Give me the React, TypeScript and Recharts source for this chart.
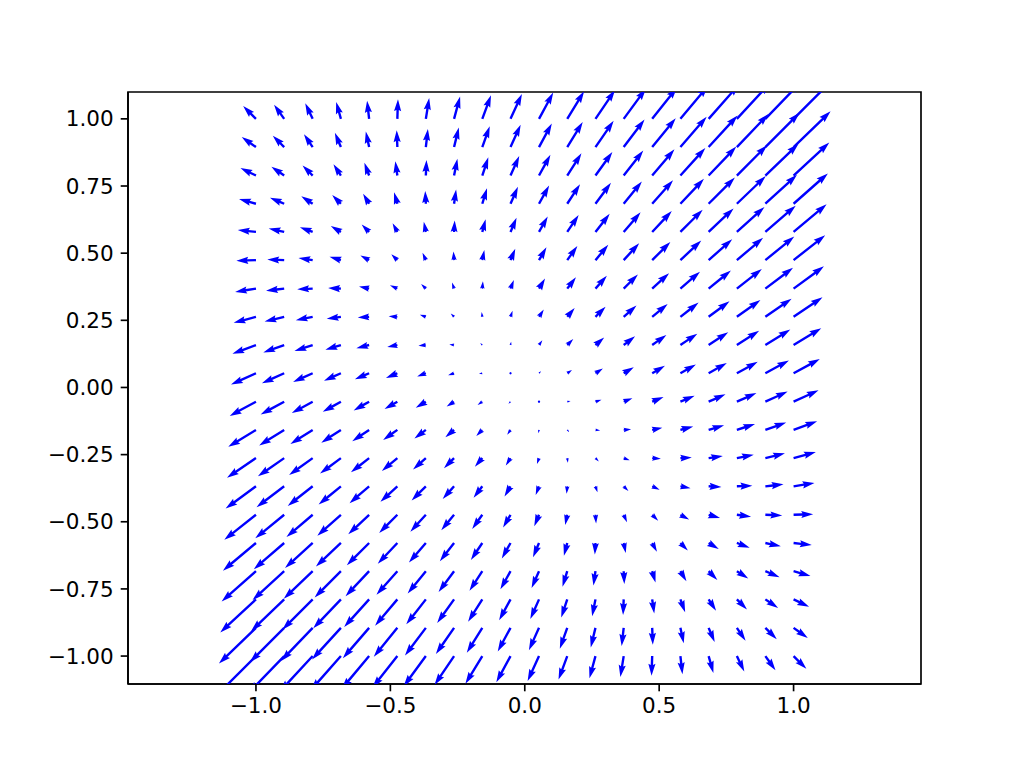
import { ScatterChart, Scatter, XAxis, YAxis, ReferenceArea } from "recharts";

// grid of arrow tails (20 x 20)
const gridX = [-1, -0.895, -0.789, -0.684, -0.579, -0.474, -0.368, -0.263, -0.158, -0.053, 0.053, 0.158, 0.263, 0.368, 0.474, 0.579, 0.684, 0.789, 0.895, 1];
const gridY = [-1, -0.895, -0.789, -0.684, -0.579, -0.474, -0.368, -0.263, -0.158, -0.053, 0.053, 0.158, 0.263, 0.368, 0.474, 0.579, 0.684, 0.789, 0.895, 1];

// horizontal components, one row per gridY value (bottom row first)
const uRows = [
  [-3, -2.79, -2.58, -2.37, -2.16, -1.95, -1.74, -1.53, -1.32, -1.11, -0.89, -0.68, -0.47, -0.26, -0.05, 0.16, 0.37, 0.58, 0.79, 1],
  [-2.89, -2.68, -2.47, -2.26, -2.05, -1.84, -1.63, -1.42, -1.21, -1, -0.79, -0.58, -0.37, -0.16, 0.05, 0.26, 0.47, 0.68, 0.89, 1.11],
  [-2.79, -2.58, -2.37, -2.16, -1.95, -1.74, -1.53, -1.32, -1.11, -0.89, -0.68, -0.47, -0.26, -0.05, 0.16, 0.37, 0.58, 0.79, 1, 1.21],
  [-2.68, -2.47, -2.26, -2.05, -1.84, -1.63, -1.42, -1.21, -1, -0.79, -0.58, -0.37, -0.16, 0.05, 0.26, 0.47, 0.68, 0.89, 1.11, 1.32],
  [-2.58, -2.37, -2.16, -1.95, -1.74, -1.53, -1.32, -1.11, -0.89, -0.68, -0.47, -0.26, -0.05, 0.16, 0.37, 0.58, 0.79, 1, 1.21, 1.42],
  [-2.47, -2.26, -2.05, -1.84, -1.63, -1.42, -1.21, -1, -0.79, -0.58, -0.37, -0.16, 0.05, 0.26, 0.47, 0.68, 0.89, 1.11, 1.32, 1.53],
  [-2.37, -2.16, -1.95, -1.74, -1.53, -1.32, -1.11, -0.89, -0.68, -0.47, -0.26, -0.05, 0.16, 0.37, 0.58, 0.79, 1, 1.21, 1.42, 1.63],
  [-2.26, -2.05, -1.84, -1.63, -1.42, -1.21, -1, -0.79, -0.58, -0.37, -0.16, 0.05, 0.26, 0.47, 0.68, 0.89, 1.11, 1.32, 1.53, 1.74],
  [-2.16, -1.95, -1.74, -1.53, -1.32, -1.11, -0.89, -0.68, -0.47, -0.26, -0.05, 0.16, 0.37, 0.58, 0.79, 1, 1.21, 1.42, 1.63, 1.84],
  [-2.05, -1.84, -1.63, -1.42, -1.21, -1, -0.79, -0.58, -0.37, -0.16, 0.05, 0.26, 0.47, 0.68, 0.89, 1.11, 1.32, 1.53, 1.74, 1.95],
  [-1.95, -1.74, -1.53, -1.32, -1.11, -0.89, -0.68, -0.47, -0.26, -0.05, 0.16, 0.37, 0.58, 0.79, 1, 1.21, 1.42, 1.63, 1.84, 2.05],
  [-1.84, -1.63, -1.42, -1.21, -1, -0.79, -0.58, -0.37, -0.16, 0.05, 0.26, 0.47, 0.68, 0.89, 1.11, 1.32, 1.53, 1.74, 1.95, 2.16],
  [-1.74, -1.53, -1.32, -1.11, -0.89, -0.68, -0.47, -0.26, -0.05, 0.16, 0.37, 0.58, 0.79, 1, 1.21, 1.42, 1.63, 1.84, 2.05, 2.26],
  [-1.63, -1.42, -1.21, -1, -0.79, -0.58, -0.37, -0.16, 0.05, 0.26, 0.47, 0.68, 0.89, 1.11, 1.32, 1.53, 1.74, 1.95, 2.16, 2.37],
  [-1.53, -1.32, -1.11, -0.89, -0.68, -0.47, -0.26, -0.05, 0.16, 0.37, 0.58, 0.79, 1, 1.21, 1.42, 1.63, 1.84, 2.05, 2.26, 2.47],
  [-1.42, -1.21, -1, -0.79, -0.58, -0.37, -0.16, 0.05, 0.26, 0.47, 0.68, 0.89, 1.11, 1.32, 1.53, 1.74, 1.95, 2.16, 2.37, 2.58],
  [-1.32, -1.11, -0.89, -0.68, -0.47, -0.26, -0.05, 0.16, 0.37, 0.58, 0.79, 1, 1.21, 1.42, 1.63, 1.84, 2.05, 2.26, 2.47, 2.68],
  [-1.21, -1, -0.79, -0.58, -0.37, -0.16, 0.05, 0.26, 0.47, 0.68, 0.89, 1.11, 1.32, 1.53, 1.74, 1.95, 2.16, 2.37, 2.58, 2.79],
  [-1.11, -0.89, -0.68, -0.47, -0.26, -0.05, 0.16, 0.37, 0.58, 0.79, 1, 1.21, 1.42, 1.63, 1.84, 2.05, 2.26, 2.47, 2.68, 2.89],
  [-1, -0.79, -0.58, -0.37, -0.16, 0.05, 0.26, 0.47, 0.68, 0.89, 1.11, 1.32, 1.53, 1.74, 1.95, 2.16, 2.37, 2.58, 2.79, 3],
];

// vertical components, same layout
const vRows = [
  [-3, -2.89, -2.79, -2.68, -2.58, -2.47, -2.37, -2.26, -2.16, -2.05, -1.95, -1.84, -1.74, -1.63, -1.53, -1.42, -1.32, -1.21, -1.11, -1],
  [-2.79, -2.68, -2.58, -2.47, -2.37, -2.26, -2.16, -2.05, -1.95, -1.84, -1.74, -1.63, -1.53, -1.42, -1.32, -1.21, -1.11, -1, -0.89, -0.79],
  [-2.58, -2.47, -2.37, -2.26, -2.16, -2.05, -1.95, -1.84, -1.74, -1.63, -1.53, -1.42, -1.32, -1.21, -1.11, -1, -0.89, -0.79, -0.68, -0.58],
  [-2.37, -2.26, -2.16, -2.05, -1.95, -1.84, -1.74, -1.63, -1.53, -1.42, -1.32, -1.21, -1.11, -1, -0.89, -0.79, -0.68, -0.58, -0.47, -0.37],
  [-2.16, -2.05, -1.95, -1.84, -1.74, -1.63, -1.53, -1.42, -1.32, -1.21, -1.11, -1, -0.89, -0.79, -0.68, -0.58, -0.47, -0.37, -0.26, -0.16],
  [-1.95, -1.84, -1.74, -1.63, -1.53, -1.42, -1.32, -1.21, -1.11, -1, -0.89, -0.79, -0.68, -0.58, -0.47, -0.37, -0.26, -0.16, -0.05, 0.05],
  [-1.74, -1.63, -1.53, -1.42, -1.32, -1.21, -1.11, -1, -0.89, -0.79, -0.68, -0.58, -0.47, -0.37, -0.26, -0.16, -0.05, 0.05, 0.16, 0.26],
  [-1.53, -1.42, -1.32, -1.21, -1.11, -1, -0.89, -0.79, -0.68, -0.58, -0.47, -0.37, -0.26, -0.16, -0.05, 0.05, 0.16, 0.26, 0.37, 0.47],
  [-1.32, -1.21, -1.11, -1, -0.89, -0.79, -0.68, -0.58, -0.47, -0.37, -0.26, -0.16, -0.05, 0.05, 0.16, 0.26, 0.37, 0.47, 0.58, 0.68],
  [-1.11, -1, -0.89, -0.79, -0.68, -0.58, -0.47, -0.37, -0.26, -0.16, -0.05, 0.05, 0.16, 0.26, 0.37, 0.47, 0.58, 0.68, 0.79, 0.89],
  [-0.89, -0.79, -0.68, -0.58, -0.47, -0.37, -0.26, -0.16, -0.05, 0.05, 0.16, 0.26, 0.37, 0.47, 0.58, 0.68, 0.79, 0.89, 1, 1.11],
  [-0.68, -0.58, -0.47, -0.37, -0.26, -0.16, -0.05, 0.05, 0.16, 0.26, 0.37, 0.47, 0.58, 0.68, 0.79, 0.89, 1, 1.11, 1.21, 1.32],
  [-0.47, -0.37, -0.26, -0.16, -0.05, 0.05, 0.16, 0.26, 0.37, 0.47, 0.58, 0.68, 0.79, 0.89, 1, 1.11, 1.21, 1.32, 1.42, 1.53],
  [-0.26, -0.16, -0.05, 0.05, 0.16, 0.26, 0.37, 0.47, 0.58, 0.68, 0.79, 0.89, 1, 1.11, 1.21, 1.32, 1.42, 1.53, 1.63, 1.74],
  [-0.05, 0.05, 0.16, 0.26, 0.37, 0.47, 0.58, 0.68, 0.79, 0.89, 1, 1.11, 1.21, 1.32, 1.42, 1.53, 1.63, 1.74, 1.84, 1.95],
  [0.16, 0.26, 0.37, 0.47, 0.58, 0.68, 0.79, 0.89, 1, 1.11, 1.21, 1.32, 1.42, 1.53, 1.63, 1.74, 1.84, 1.95, 2.05, 2.16],
  [0.37, 0.47, 0.58, 0.68, 0.79, 0.89, 1, 1.11, 1.21, 1.32, 1.42, 1.53, 1.63, 1.74, 1.84, 1.95, 2.05, 2.16, 2.26, 2.37],
  [0.58, 0.68, 0.79, 0.89, 1, 1.11, 1.21, 1.32, 1.42, 1.53, 1.63, 1.74, 1.84, 1.95, 2.05, 2.16, 2.26, 2.37, 2.47, 2.58],
  [0.79, 0.89, 1, 1.11, 1.21, 1.32, 1.42, 1.53, 1.63, 1.74, 1.84, 1.95, 2.05, 2.16, 2.26, 2.37, 2.47, 2.58, 2.68, 2.79],
  [1, 1.11, 1.21, 1.32, 1.42, 1.53, 1.63, 1.74, 1.84, 1.95, 2.05, 2.16, 2.26, 2.37, 2.47, 2.58, 2.68, 2.79, 2.89, 3],
];

const xTicks = [-1, -0.5, 0, 0.5, 1];
const yTicks = [-1, -0.75, -0.5, -0.25, 0, 0.25, 0.5, 0.75, 1];
const xDomain = [-1.476, 1.474];
const yDomain = [-1.104, 1.1];

const points = gridY.flatMap((y, j) =>
  gridX.map((x, k) => ({ x, y, u: uRows[j][k], v: vRows[j][k] }))
);

// quiver look (matplotlib defaults): shaft width in px, arrow px per unit
const SHAFT = 2.38;
const PX_PER_UNIT = 12.8;

const minusFmt = (v: number, d: number) =>
  (v < 0 ? "\u2212" : "") + Math.abs(v).toFixed(d);

function Arrow(props: any) {
  const { cx, cy, payload } = props;
  if (cx == null || cy == null) return null;
  const { u, v } = payload;
  const len = (Math.hypot(u, v) * PX_PER_UNIT) / SHAFT;
  let pts: number[][];
  if (len < 1) {
    pts = Array.from({ length: 8 }, (_, i) => [
      0.5 * Math.cos((i * Math.PI) / 4),
      0.5 * Math.sin((i * Math.PI) / 4),
    ]);
  } else if (len < 5) {
    const s = len / 5;
    pts = [[0, 0.5], [0.5, 0.5], [0, 1.5], [5, 0], [0, -1.5], [0.5, -0.5], [0, -0.5]].map(
      ([a, b]) => [a * s, b * s]
    );
  } else {
    pts = [[0, 0.5], [len - 4.5, 0.5], [len - 5, 1.5], [len, 0], [len - 5, -1.5], [len - 4.5, -0.5], [0, -0.5]];
  }
  const ang = Math.atan2(-v, u);
  const c = Math.cos(ang);
  const s = Math.sin(ang);
  const d = pts
    .map(([a, b]) => `${cx + SHAFT * (a * c - b * s)},${cy + SHAFT * (a * s + b * c)}`)
    .join(" ");
  return <polygon points={d} fill="#0000ff" stroke="none" />;
}

const axisStroke = { stroke: "#000", strokeWidth: 1.67 };
const tickFont = { fill: "#000", fontSize: 21.5, fontFamily: "DejaVu Sans" };

export default function App() {
  return (
    <div style={{ position: "absolute", left: 0, top: 0, width: 1024, height: 768, background: "#fff" }}>
      <ScatterChart width={1024} height={768} margin={{ top: 92, right: 103, bottom: 44, left: 48 }}>
        <XAxis
          type="number"
          dataKey="x"
          domain={xDomain}
          allowDataOverflow
          ticks={xTicks}
          interval={0}
          tickFormatter={(v) => minusFmt(v, 1)}
          height={40}
          tickSize={7.3}
          tickMargin={6}
          axisLine={axisStroke}
          tickLine={axisStroke}
          tick={tickFont}
        />
        <YAxis
          type="number"
          dataKey="y"
          domain={yDomain}
          allowDataOverflow
          ticks={yTicks}
          interval={0}
          tickFormatter={(v) => minusFmt(v, 2)}
          width={80}
          tickSize={7.3}
          tickMargin={7}
          axisLine={axisStroke}
          tickLine={axisStroke}
          tick={tickFont}
        />
        <Scatter data={points} shape={Arrow} isAnimationActive={false} />
        {/* full frame round the plot */}
        <ReferenceArea
          x1={xDomain[0]}
          x2={xDomain[1]}
          y1={yDomain[0]}
          y2={yDomain[1]}
          fill="none"
          fillOpacity={0}
          stroke="#000"
          strokeWidth={1.67}
          strokeOpacity={1}
        />
      </ScatterChart>
    </div>
  );
}
